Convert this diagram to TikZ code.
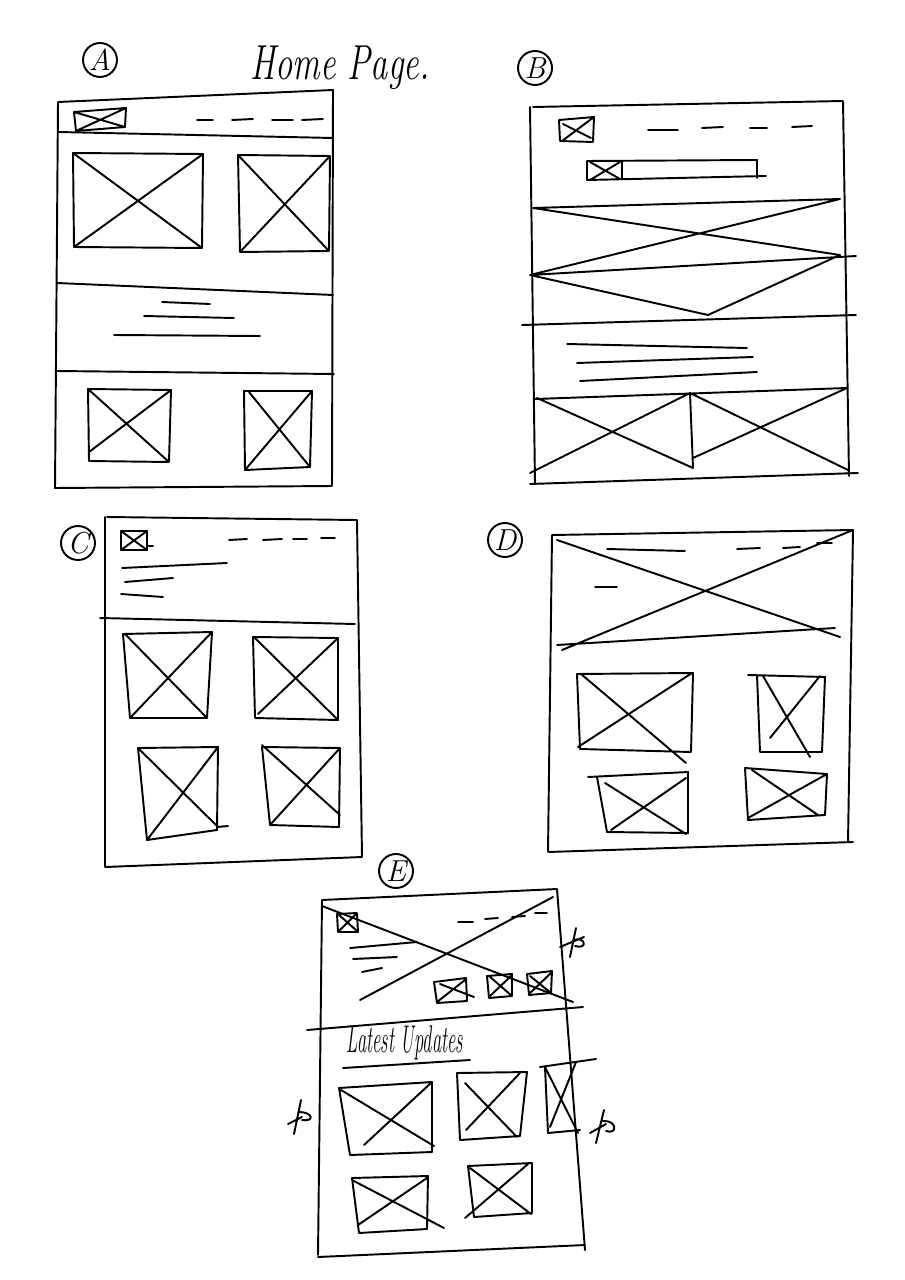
\documentclass[tikz,border=0pt]{standalone}
\tikzset{
  lab/.style={draw, circle, inner sep=0pt, minimum size=0.68cm, font=\LARGE\itshape},
  pen/.style={line width=1.1pt, line cap=round, line join=round}
}
\begin{document}
\begin{tikzpicture}[x=0.02cm, y=-0.02cm, pen]
\useasboundingbox (0,0) rectangle (904,1280);

% labels
\node[lab] (labA) at (100,60) {A};
\node[lab] (labB) at (535,68) {B};
\node[lab] (labC) at (78,543) {C};
\node[lab] (labD) at (505,540) {D};
\node[lab] (labE) at (396,871) {E};
\node (title) at (340,68) {\scalebox{0.7}[1]{\fontsize{28}{30}\selectfont\itshape Home Page.}};

% A
\draw (58,102) -- (333,90) -- (332,486) -- (55,488) -- cycle;
\draw (58,132) -- (333,138)   (57,283) -- (333,295)   (57,371) -- (334,374);
\draw (74,112) -- (126,108) -- (125,127) -- (76,131) -- cycle
      (74,112) -- (125,127)   (76,131) -- (126,108);
\draw (197,120) -- (213,120)   (232,120) -- (253,119)
      (272,120) -- (293,120)   (302,120) -- (323,119);
\draw (73,153) -- (203,154) -- (202,248) -- (74,247) -- cycle
      (73,153) -- (202,248)   (74,247) -- (203,154);
\draw (238,155) -- (330,156) -- (329,251) -- (240,252) -- cycle
      (238,155) -- (329,251)   (240,252) -- (330,156);
\draw (162,302) -- (210,304)   (144,316) -- (234,318)   (114,335) -- (260,336);
\draw (88,389) -- (171,390) -- (169,462) -- (89,461) -- cycle
      (88,389) -- (169,462)   (89,452) -- (171,390);
\draw (244,391) -- (312,391) -- (310,467) -- (245,470) -- cycle
      (249,392) -- (310,467)   (245,470) -- (312,391);

% B
\draw (533,107) -- (843,101)   (530,107) -- (535,484)   (843,101) -- (849,476)
      (530,484) -- (858,473);
\draw (559,120) -- (594,117) -- (593,142) -- (560,141) -- cycle
      (563,124) -- (591,138)   (562,141) -- (594,117);
\draw (648,130) -- (678,130)   (702,128) -- (723,127)
      (750,128) -- (767,128)   (792,127) -- (812,126);
\draw (587,161) -- (757,160) -- (757,178)
      (587,161) -- (587,180) -- (766,176)
      (622,161) -- (622,179)   (590,162) -- (620,179)   (590,180) -- (620,162);
\draw (533,208) -- (840,199)   (533,208) -- (840,255)   (840,199) -- (530,275)
      (530,275) -- (856,256)   (530,275) -- (708,315) -- (840,255)
      (522,325) -- (856,315);
\draw (567,344) -- (747,348)   (577,363) -- (753,357)   (580,381) -- (757,372);
\draw (535,399) -- (847,388)   (690,393) -- (693,468)
      (537,398) -- (693,468)   (530,473) -- (690,393)
      (690,393) -- (848,470)   (847,388) -- (693,458);

% C
\draw (107,517) -- (357,520)   (357,520) -- (362,857)
      (105,517) -- (105,867)   (105,867) -- (362,857);
\draw (121,531) -- (147,531) -- (147,550) -- (121,550) -- cycle
      (121,531) -- (147,550)   (121,550) -- (147,531)   (147,546) -- (153,546);
\draw (229,540) -- (247,539)   (263,540) -- (282,539)
      (293,539) -- (307,539)   (321,538) -- (335,538);
\draw (122,568) -- (227,563)   (125,582) -- (173,578)   (121,594) -- (163,597);
\draw (100,618) -- (355,624);
\draw (123,634) -- (212,632) -- (207,718) -- (130,718) -- cycle
      (125,634) -- (207,718)   (130,718) -- (212,632);
\draw (253,637) -- (338,638) -- (338,720) -- (255,718) -- cycle
      (255,638) -- (338,720)   (258,714) -- (338,638);
\draw (138,748) -- (218,747) -- (217,830) -- (147,840) -- cycle
      (138,748) -- (217,826)   (147,840) -- (218,747)   (217,827) -- (228,826);
\draw (262,747) -- (340,748) -- (339,827) -- (270,825) -- cycle
      (262,745) -- (340,815)   (270,825) -- (340,748);

% D
\draw (552,535) -- (853,530)   (853,530) -- (848,842)
      (552,535) -- (548,852)   (548,852) -- (853,842);
\draw (557,645) -- (835,628)
      (557,540) -- (840,637)   (562,650) -- (853,530);
\draw (607,549) -- (685,551)   (737,549) -- (760,548)
      (783,548) -- (800,547)   (817,543) -- (832,543)
      (595,587) -- (617,587);
\draw (577,674) -- (693,673) -- (691,752) -- (580,749) -- cycle
      (581,674) -- (686,763)   (578,747) -- (692,673);
\draw (748,675) -- (825,677) -- (822,752) -- (760,752) -- (757,675)
      (763,676) -- (810,757)   (770,738) -- (820,676);
\draw (588,777) -- (688,772) -- (688,833) -- (607,832) -- (597,777)
      (605,783) -- (686,834)   (611,830) -- (686,778);
\draw (745,768) -- (827,774) -- (825,815) -- (748,820) -- cycle
      (752,770) -- (818,815)   (748,818) -- (827,774);

% E
\draw (322,900) -- (557,889)   (557,889) -- (585,1250)
      (322,900) -- (318,1255)   (318,1257) -- (585,1245);
\draw (337,914) -- (357,913) -- (358,932) -- (338,932) -- cycle
      (338,914) -- (357,931)   (339,931) -- (356,914);
\draw (458,922) -- (473,922)   (485,919) -- (498,918)
      (512,917) -- (525,916)   (535,913) -- (547,913);
\draw (350,948) -- (417,942)   (353,959) -- (397,957)   (362,972) -- (382,968);
\draw (322,906) -- (573,1002)   (360,1000) -- (553,897);
\draw (434,982) -- (466,978) -- (467,1001) -- (437,1003) -- cycle
      (440,984) -- (474,997)   (437,1002) -- (465,980);
\draw (487,976) -- (512,974) -- (512,996) -- (489,998) -- cycle
      (489,976) -- (512,996)   (489,997) -- (512,975);
\draw (527,974) -- (552,971) -- (551,993) -- (529,995) -- cycle
      (530,976) -- (551,993)   (529,994) -- (552,972);
\draw (307,1030) -- (583,1007);
\node (latest) at (405,1043) {\scalebox{0.48}[1]{\fontsize{22}{24}\selectfont\itshape Latest Updates}};
\draw (343,1068) -- (470,1060);
\draw (339,1088) -- (432,1082) -- (432,1152) -- (350,1155) -- cycle
      (341,1090) -- (434,1146)   (364,1145) -- (432,1082);
\draw (457,1073) -- (527,1072) -- (520,1136) -- (460,1140) -- cycle
      (465,1083) -- (517,1137)   (466,1130) -- (520,1073);
\draw (540,1067) -- (596,1059)
      (545,1067) -- (548,1133) -- (580,1130)
      (545,1067) -- (578,1133)   (550,1127) -- (576,1062);
\draw (352,1178) -- (428,1176) -- (427,1229) -- (359,1233) -- cycle
      (352,1180) -- (444,1228)   (358,1225) -- (427,1178);
\draw (468,1166) -- (532,1163) -- (532,1213) -- (474,1217) -- cycle
      (470,1168) -- (531,1214)   (465,1218) -- (528,1164);

% stars
\draw (576,928) -- (570,957)   (560,947) -- (584,937)
      (573,940) .. controls (586,936) and (588,950) .. (575,946);
\draw (301,1100) -- (294,1134)   (288,1124) -- (302,1117)
      (299,1112) .. controls (313,1112) and (315,1122) .. (302,1120);
\draw (604,1110) -- (596,1143)   (590,1133) -- (606,1124)
      (603,1121) .. controls (617,1120) and (618,1135) .. (606,1131);
\end{tikzpicture}
\end{document}
